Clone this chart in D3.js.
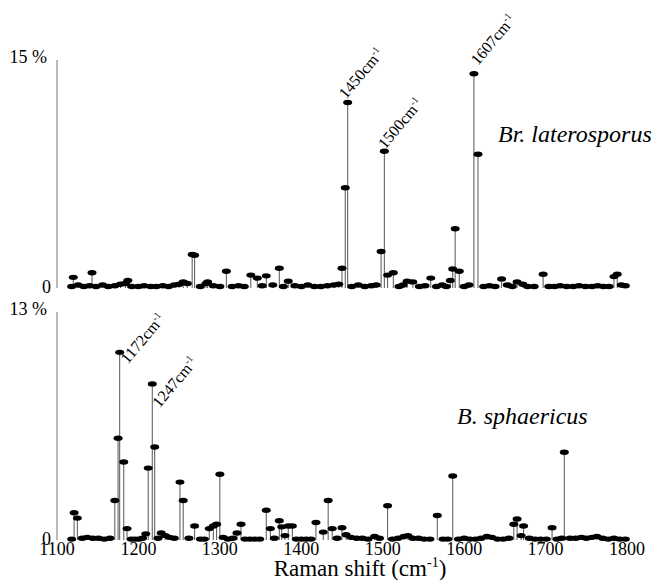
<!DOCTYPE html>
<html>
<head>
<meta charset="utf-8">
<script src="https://cdn.jsdelivr.net/npm/d3@7/dist/d3.min.js"></script>
<style>
  body { margin: 0; background: #fff; }
  text { font-family: "Liberation Serif", "Times New Roman", Times, serif; fill: #000; }
</style>
</head>
<body>
<svg width="657" height="580" font-family="Liberation Serif, Times New Roman, serif"></svg>
<script>
// ---- data: Raman shift (cm-1), relative intensity (%) ----
var topPeaks = [
  [1120,0.7],[1143,1.0],[1187,0.5],[1255,0.4],[1266,2.2],[1269,2.15],[1285,0.4],
  [1308,1.1],[1338,0.85],[1346,0.65],[1357,0.8],[1373,1.3],[1384,0.45],[1450,1.3],
  [1454,6.6],[1457,12.2],[1498,2.4],[1502,9.0],[1506,0.85],[1513,1.0],[1530,0.45],
  [1537,0.4],[1559,0.65],[1583,0.5],[1586,1.25],[1589,3.9],[1594,1.1],[1612,14.1],
  [1617,8.8],[1646,0.6],[1665,0.4],[1697,0.9],[1784,0.75],[1788,0.9]
];
var topBase = [
  [1118,0.1],[1126,0.2],[1133,0.1],[1140,0.15],[1148,0.1],[1156,0.2],[1163,0.1],[1171,0.15],
  [1178,0.25],[1184,0.3],[1192,0.1],[1200,0.1],[1207,0.15],[1215,0.1],[1222,0.1],[1230,0.15],
  [1237,0.1],[1244,0.2],[1250,0.25],[1260,0.3],[1276,0.1],[1283,0.3],[1292,0.15],[1300,0.1],
  [1315,0.1],[1323,0.15],[1330,0.1],[1352,0.15],[1365,0.2],[1378,0.1],[1392,0.15],[1400,0.1],
  [1408,0.2],[1416,0.1],[1424,0.1],[1432,0.15],[1440,0.2],[1446,0.25],[1462,0.1],[1470,0.2],
  [1478,0.1],[1486,0.15],[1492,0.2],[1520,0.1],[1525,0.2],[1545,0.1],[1552,0.15],[1566,0.1],
  [1573,0.2],[1578,0.1],[1600,0.1],[1606,0.2],[1624,0.1],[1631,0.15],[1638,0.1],[1653,0.2],
  [1659,0.1],[1672,0.25],[1678,0.1],[1686,0.1],[1704,0.1],[1711,0.1],[1718,0.15],[1726,0.1],
  [1734,0.1],[1741,0.15],[1749,0.1],[1757,0.1],[1764,0.15],[1771,0.1],[1778,0.1],[1793,0.2],
  [1798,0.15]
];
var botPeaks = [
  [1121,1.55],[1125,1.25],[1171,2.25],[1175,5.8],[1177,10.7],[1182,4.45],[1186,0.65],
  [1209,0.35],[1212,4.1],[1217,8.9],[1220,5.3],[1228,0.4],[1251,3.3],[1255,2.25],
  [1269,0.8],[1287,0.65],[1292,0.8],[1296,0.9],[1300,3.75],[1321,0.4],[1326,0.9],
  [1357,1.7],[1362,0.65],[1373,1.1],[1376,0.75],[1380,0.25],[1384,0.8],[1389,0.8],
  [1418,1.0],[1427,0.45],[1433,2.25],[1438,0.65],[1450,0.7],[1506,1.95],[1567,1.4],
  [1586,3.65],[1661,0.9],[1665,1.2],[1670,0.25],[1673,0.8],[1708,0.7],[1723,5.0]
];
var botBase = [
  [1118,0.05],[1131,0.1],[1137,0.15],[1144,0.1],[1151,0.1],[1158,0.05],[1165,0.1],[1191,0.05],
  [1196,0.05],[1201,0.05],[1205,0.1],[1224,0.1],[1233,0.25],[1238,0.15],[1244,0.1],[1262,0.1],
  [1276,0.05],[1281,0.05],[1304,0.15],[1310,0.05],[1316,0.1],[1331,0.05],[1337,0.05],[1343,0.05],
  [1349,0.05],[1367,0.1],[1394,0.05],[1400,0.05],[1406,0.05],[1412,0.05],[1444,0.1],[1455,0.3],
  [1461,0.15],[1468,0.1],[1475,0.1],[1482,0.05],[1490,0.2],[1496,0.1],[1512,0.05],[1519,0.1],
  [1526,0.2],[1531,0.25],[1537,0.1],[1544,0.1],[1551,0.05],[1558,0.05],[1574,0.05],[1580,0.05],
  [1593,0.05],[1600,0.1],[1607,0.05],[1614,0.05],[1621,0.1],[1628,0.2],[1634,0.15],[1641,0.05],
  [1648,0.05],[1655,0.1],[1680,0.1],[1687,0.05],[1694,0.05],[1701,0.05],[1714,0.05],[1720,0.1],
  [1730,0.1],[1737,0.1],[1744,0.15],[1750,0.1],[1757,0.15],[1763,0.2],[1770,0.1],[1777,0.05],
  [1784,0.1],[1791,0.05],[1798,0.05]
];
// peak annotations: text, shift, intensity where the label starts
var topLabels = [["1450", 1455, 12.4], ["1500", 1503, 9.1], ["1607", 1617, 14.6]];
var botLabels = [["1172", 1187, 10.0], ["1247", 1226, 7.5]];
var xTicks = [1100, 1200, 1300, 1400, 1500, 1600, 1700, 1800];

var svg = d3.select("svg");

var x = d3.scaleLinear().domain([1100, 1800]).range([57, 627]);
var yTop = d3.scaleLinear().domain([0, 15]).range([288, 60]);
var yBot = d3.scaleLinear().domain([0, 13]).range([540, 312]);

function panel(y, base, peaks, labels, maxLabel, name, nameX, nameY) {
    var g = svg.append("g");

    // y axis line
    g.append("line")
        .attr("x1", x(1100)).attr("x2", x(1100))
        .attr("y1", y(0)).attr("y2", y(y.domain()[1]))
        .attr("stroke", "#777").attr("stroke-width", 1);

    g.append("text")
        .attr("x", 47).attr("y", y(y.domain()[1]) + 3)
        .attr("text-anchor", "end").attr("font-size", 18)
        .text(maxLabel);
    g.append("text")
        .attr("x", 51).attr("y", y(0) + 5)
        .attr("text-anchor", "end").attr("font-size", 18)
        .text("0");

    var pts = base.concat(peaks);

    g.selectAll("line.stem")
        .data(pts)
        .enter().append("line")
        .attr("class", "stem")
        .attr("x1", function(d) { return x(d[0]); })
        .attr("x2", function(d) { return x(d[0]); })
        .attr("y1", y(0))
        .attr("y2", function(d) { return y(d[1]); })
        .attr("stroke", "#555").attr("stroke-width", 1);

    g.selectAll("ellipse")
        .data(pts)
        .enter().append("ellipse")
        .attr("cx", function(d) { return x(d[0]); })
        .attr("cy", function(d) { return y(d[1]); })
        .attr("rx", 4.5).attr("ry", 2.7)
        .attr("fill", "#000");

    var lab = g.selectAll("text.peak")
        .data(labels)
        .enter().append("text")
        .attr("class", "peak")
        .attr("font-size", 16)
        .attr("transform", function(d) {
            return "translate(" + x(d[1]) + "," + y(d[2]) + ") rotate(-50)";
        });
    lab.append("tspan").text(function(d) { return d[0] + "cm"; });
    lab.append("tspan").attr("dy", -6).attr("font-size", 10).text("-1");

    g.append("text")
        .attr("x", nameX).attr("y", nameY)
        .attr("font-size", 24).attr("font-style", "italic")
        .text(name);
}

panel(yTop, topBase, topPeaks, topLabels, "15 %", "Br. laterosporus", 498, 142);
panel(yBot, botBase, botPeaks, botLabels, "13 %", "B. sphaericus", 457, 424);

// x tick labels
svg.append("g").selectAll("text")
    .data(xTicks)
    .enter().append("text")
    .attr("x", function(d) { return x(d); })
    .attr("y", 555)
    .attr("text-anchor", "middle")
    .attr("font-size", 18)
    .text(function(d) { return d; });

var title = svg.append("text")
    .attr("x", 360).attr("y", 576)
    .attr("text-anchor", "middle")
    .attr("font-size", 23);
title.append("tspan").text("Raman shift (cm");
title.append("tspan").attr("dy", -9).attr("font-size", 14).text("-1");
title.append("tspan").attr("dy", 9).text(")");
</script>
</body>
</html>
